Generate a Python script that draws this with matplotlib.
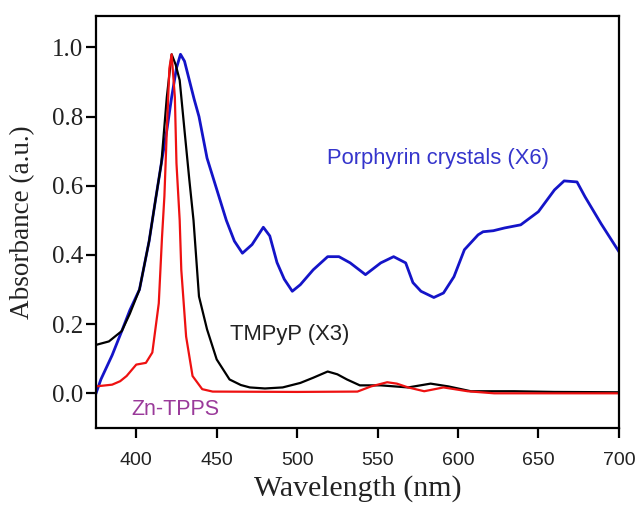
import matplotlib
matplotlib.use("Agg")
import matplotlib.pyplot as plt

# Porphyrin crystals (X6) - blue
wl_crystal = [375, 378, 385, 391, 396, 402, 408, 412, 415.6, 419, 422, 425, 427.5, 430, 433, 436,
              439, 444, 450, 456, 461, 466, 472, 479, 483, 487.5, 492, 497, 502, 510, 519, 526,
              533, 542.5, 552, 560, 567.5, 572, 577, 585, 591, 597.5, 604, 612.5, 615.6, 622,
              629, 639, 650, 660, 666, 674, 679, 689, 700]
abs_crystal = [0.0, 0.04, 0.11, 0.18, 0.24, 0.30, 0.44, 0.56, 0.665, 0.76, 0.856, 0.94, 0.98, 0.96,
               0.905, 0.85, 0.80, 0.68, 0.59, 0.50, 0.44, 0.405, 0.43, 0.48, 0.455, 0.378, 0.33,
               0.295, 0.314, 0.357, 0.395, 0.395, 0.377, 0.343, 0.377, 0.395, 0.377, 0.32, 0.295,
               0.277, 0.29, 0.337, 0.415, 0.458, 0.467, 0.47, 0.478, 0.487, 0.525, 0.588, 0.614,
               0.611, 0.568, 0.49, 0.41]

# TMPyP (X3) - black
wl_tmpyp = [375, 383, 391, 396, 402, 408, 412, 415.6, 419, 422, 424.5, 427, 430, 433, 435.6, 439,
            444, 450, 458, 465, 470.6, 480, 491, 502, 510, 519, 525, 531, 539, 552, 569, 583,
            594, 608, 635, 660, 700]
abs_tmpyp = [0.14, 0.15, 0.18, 0.23, 0.30, 0.44, 0.56, 0.665, 0.856, 0.98, 0.95, 0.905, 0.76, 0.617,
             0.50, 0.28, 0.185, 0.098, 0.04, 0.024, 0.017, 0.014, 0.017, 0.03, 0.045, 0.063, 0.055,
             0.04, 0.023, 0.023, 0.017, 0.028, 0.02, 0.006, 0.006, 0.004, 0.003]

# Zn-TPPS - red
wl_zntpps = [375, 385, 390, 394, 400, 406, 410, 414, 416, 417.5, 419, 420.6, 422, 424, 425, 427,
             428, 431, 435, 441, 447.5, 500, 537.5, 546, 556, 562, 569, 579, 591, 606, 622.5, 700]
abs_zntpps = [0.02, 0.025, 0.035, 0.05, 0.083, 0.088, 0.118, 0.26, 0.45, 0.57, 0.76, 0.94, 0.98,
              0.856, 0.665, 0.50, 0.357, 0.164, 0.05, 0.012, 0.005, 0.004, 0.005, 0.02, 0.032,
              0.028, 0.017, 0.006, 0.017, 0.006, 0.0, 0.0]

x_ticks = [400, 450, 500, 550, 600, 650, 700]
y_ticks = [0.0, 0.2, 0.4, 0.6, 0.8, 1.0]

fig = plt.figure(figsize=(6.36, 5.07), dpi=100)
ax = fig.add_axes([0.151, 0.156, 0.822, 0.812])

ax.plot(wl_crystal, abs_crystal, color='#1414c8', lw=2.0)
ax.plot(wl_tmpyp, abs_tmpyp, color='black', lw=1.6)
ax.plot(wl_zntpps, abs_zntpps, color='#ee1111', lw=1.6)

ax.set_xlim(375, 700)
ax.set_ylim(-0.1, 1.09)
ax.set_xticks(x_ticks)
ax.set_yticks(y_ticks)
ax.set_xticklabels([str(t) for t in x_ticks], family='Liberation Sans', fontsize=14, color='#222222')
ax.set_yticklabels(['%.1f' % t for t in y_ticks], family='Liberation Serif', fontsize=18, color='#222222')

for s in ax.spines.values():
    s.set_linewidth(1.6)
ax.tick_params(direction='out', length=7.5, width=1.6)
ax.tick_params(axis='x', pad=10)
ax.tick_params(axis='y', pad=2)

ax.set_xlabel('Wavelength (nm)', family='Liberation Serif', fontsize=21.5, color='#222222', labelpad=4)
ax.set_ylabel('Absorbance (a.u.)', family='Liberation Serif', fontsize=19.5, color='#222222', labelpad=12)

ax.text(518.75, 0.68, 'Porphyrin crystals (X6)', color='#3535cc', fontsize=15.8,
        family='Liberation Sans', va='center', ha='left')
ax.text(458, 0.17, 'TMPyP (X3)', color='#222222', fontsize=15.8,
        family='Liberation Sans', va='center', ha='left')
ax.text(397, -0.046, 'Zn-TPPS', color='#9a3a9a', fontsize=15.5,
        family='Liberation Sans', va='center', ha='left')

fig.savefig('out.png', dpi=100)
